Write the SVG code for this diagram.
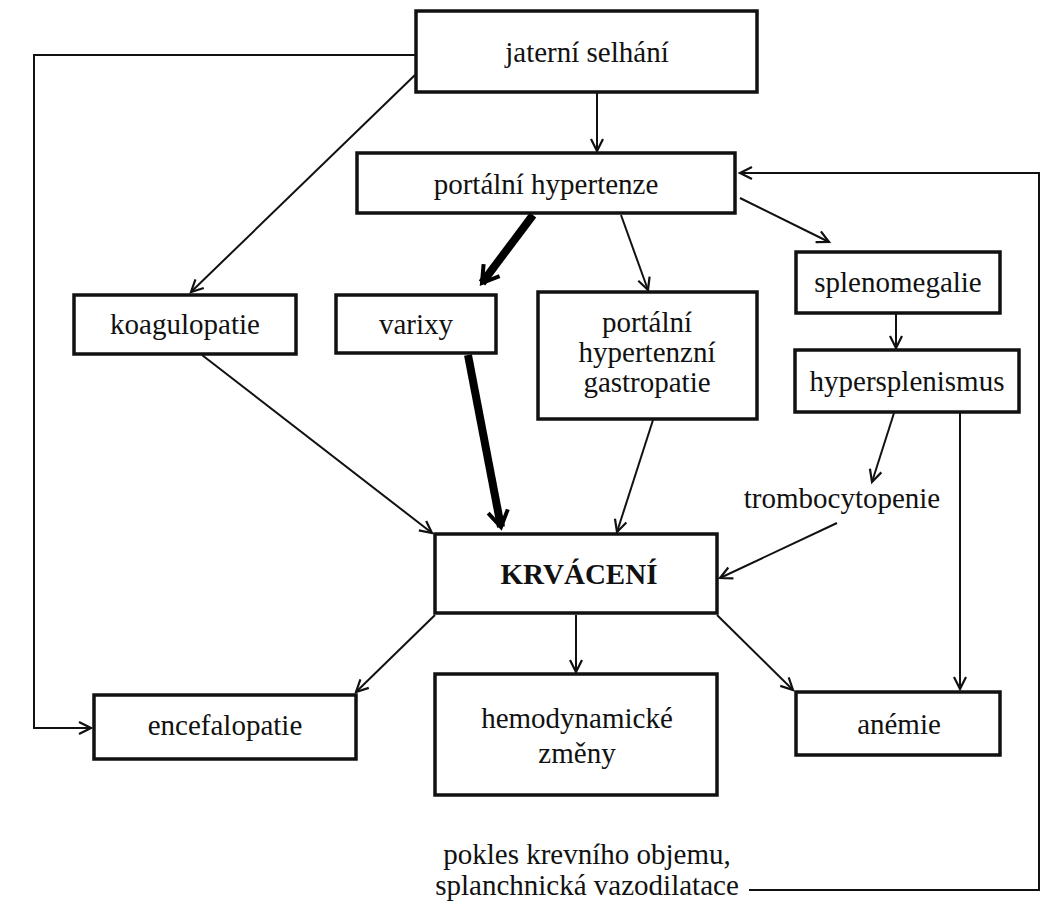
<svg xmlns="http://www.w3.org/2000/svg" width="1058" height="911" viewBox="0 0 1058 911">
<style>
.box{fill:#fff;stroke:#111;stroke-width:3.5}
.t{font-family:"Liberation Serif","Times New Roman",serif;font-size:29px;fill:#111;text-anchor:middle}
.b{font-weight:bold}
.c{fill:none;stroke:#111;stroke-width:2}
.th{fill:none;stroke:#000;stroke-width:8}
</style>
<defs>
<marker id="a" markerUnits="userSpaceOnUse" markerWidth="16" markerHeight="14" refX="13" refY="6" orient="auto" overflow="visible">
<path d="M1,0 L13,6 L1,12" fill="none" stroke="#111" stroke-width="2.2"/>
</marker>
<marker id="ta" markerUnits="userSpaceOnUse" markerWidth="24" markerHeight="24" refX="10" refY="10" orient="auto" overflow="visible">
<path d="M-6,0 L10,10 L-6,20" fill="none" stroke="#000" stroke-width="4"/>
</marker>
</defs>
<rect width="1058" height="911" fill="#fff"/>
<g id="connectors">
<polyline class="c" points="415,55 34,55 34,728 91,728" marker-end="url(#a)"/>
<line class="c" x1="597" y1="92" x2="597" y2="151" marker-end="url(#a)"/>
<line class="c" x1="415" y1="75" x2="191" y2="292" marker-end="url(#a)"/>
<line class="th" x1="533" y1="215" x2="482" y2="283" marker-end="url(#ta)"/>
<line class="c" x1="621" y1="215" x2="648" y2="290" marker-end="url(#a)"/>
<line class="c" x1="740" y1="198" x2="829" y2="242" marker-end="url(#a)"/>
<line class="c" x1="896" y1="313" x2="896" y2="348" marker-end="url(#a)"/>
<line class="c" x1="894" y1="413" x2="872" y2="482" marker-end="url(#a)"/>
<line class="c" x1="837" y1="523" x2="720" y2="578" marker-end="url(#a)"/>
<line class="c" x1="960" y1="412" x2="960" y2="689" marker-end="url(#a)"/>
<line class="c" x1="202" y1="355" x2="432" y2="533" marker-end="url(#a)"/>
<line class="th" x1="468" y1="355" x2="501" y2="527" marker-end="url(#ta)"/>
<line class="c" x1="653" y1="420" x2="617" y2="532" marker-end="url(#a)"/>
<line class="c" x1="435" y1="615" x2="356" y2="692" marker-end="url(#a)"/>
<line class="c" x1="576" y1="615" x2="576" y2="672" marker-end="url(#a)"/>
<line class="c" x1="717" y1="615" x2="793" y2="690" marker-end="url(#a)"/>
<polyline class="c" points="749,890 1039,890 1039,173 740,173" marker-end="url(#a)"/>
</g>
<g id="jaterni"><rect class="box" x="416" y="11" width="341" height="81"/><text class="t" x="587" y="62">jaterní selhání</text></g>
<g id="portalni"><rect class="box" x="357" y="153" width="378" height="60"/><text class="t" x="546" y="194">portální hypertenze</text></g>
<g id="koagulopatie"><rect class="box" x="74" y="295" width="222" height="59"/><text class="t" x="185" y="334">koagulopatie</text></g>
<g id="varixy"><rect class="box" x="336" y="295" width="160" height="58"/><text class="t" x="416" y="334">varixy</text></g>
<g id="gastropatie"><rect class="box" x="538" y="292" width="219" height="127"/><text class="t" x="647" y="332">portální</text><text class="t" x="647" y="362">hypertenzní</text><text class="t" x="647" y="392">gastropatie</text></g>
<g id="splenomegalie"><rect class="box" x="796" y="252" width="204" height="61"/><text class="t" x="898" y="292">splenomegalie</text></g>
<g id="hypersplenismus"><rect class="box" x="795" y="350" width="224" height="62"/><text class="t" x="907" y="391">hypersplenismus</text></g>
<g id="trombocytopenie"><text class="t" x="842" y="508">trombocytopenie</text></g>
<g id="krvaceni"><rect class="box" x="435" y="534" width="282" height="79"/><text class="t b" x="579" y="584">KRVÁCENÍ</text></g>
<g id="encefalopatie"><rect class="box" x="94" y="695" width="262" height="64"/><text class="t" x="225" y="735">encefalopatie</text></g>
<g id="hemodynamicke"><rect class="box" x="435" y="674" width="282" height="121"/><text class="t" x="577" y="728">hemodynamické</text><text class="t" x="577" y="763">změny</text></g>
<g id="anemie"><rect class="box" x="796" y="692" width="204" height="63"/><text class="t" x="899" y="734">anémie</text></g>
<g id="pokles"><text class="t" x="587" y="864">pokles krevního objemu,</text><text class="t" x="587" y="895">splanchnická vazodilatace</text></g>
</svg>
